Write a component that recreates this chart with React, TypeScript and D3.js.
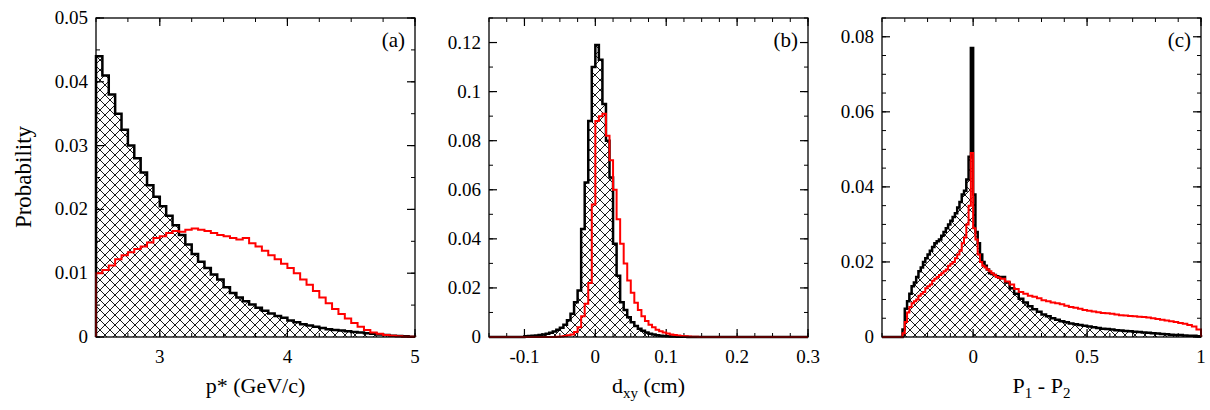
import * as d3 from "d3";

// panel (a): p* histograms, bins of 0.05 from 2.5
const aBlack = [0.044, 0.041, 0.038, 0.035, 0.0325, 0.03, 0.028, 0.0258, 0.0238, 0.022, 0.0205, 0.019, 0.0175, 0.016, 0.0145, 0.013, 0.0118, 0.0108, 0.0098, 0.009, 0.0078, 0.0069, 0.0062, 0.0056, 0.0051, 0.0046, 0.0041, 0.0037, 0.0033, 0.003, 0.0026, 0.0023, 0.002, 0.0018, 0.0016, 0.0014, 0.0012, 0.0011, 0.001, 0.0009, 0.0008, 0.0007, 0.0006, 0.0005, 0.0004, 0.0003, 0.0002, 0.00015, 0.0001, 0.00005];
const aRed = [0.01, 0.0105, 0.0112, 0.0122, 0.0128, 0.0133, 0.0138, 0.0142, 0.0148, 0.0155, 0.0158, 0.0163, 0.0166, 0.0165, 0.0168, 0.017, 0.0168, 0.0166, 0.0163, 0.016, 0.0158, 0.0155, 0.0153, 0.0155, 0.0147, 0.0142, 0.0135, 0.0128, 0.0122, 0.0115, 0.0108, 0.01, 0.009, 0.0082, 0.0072, 0.0062, 0.0053, 0.0044, 0.0036, 0.0029, 0.0022, 0.0016, 0.0011, 0.0007, 0.0005, 0.0003, 0.0002, 0.0001, 0.00005, 0.00003];

// panel (b): d_xy histograms, bins of 0.005 from -0.1
const bBlack = [0.0003, 0.0004, 0.0005, 0.0006, 0.0008, 0.001, 0.0013, 0.0017, 0.0022, 0.003, 0.0038, 0.005, 0.0068, 0.0095, 0.0142, 0.019, 0.044, 0.063, 0.088, 0.11, 0.119, 0.113, 0.095, 0.08, 0.065, 0.038, 0.025, 0.0142, 0.011, 0.008, 0.006, 0.0045, 0.0034, 0.0025, 0.0018, 0.0013, 0.001, 0.0007, 0.0005, 0.0004, 0.0003, 0.0002, 0.0002, 0.0001, 0.0001, 0.0001, 0.00005, 0.00005, 0, 0, 0, 0, 0, 0, 0, 0, 0, 0, 0, 0];
const bRed = [0, 0, 0, 0, 0, 0, 0, 0, 0, 0.0001, 0.0002, 0.0004, 0.0007, 0.001, 0.002, 0.004, 0.0085, 0.0135, 0.022, 0.054, 0.088, 0.09, 0.091, 0.082, 0.072, 0.06, 0.048, 0.038, 0.03, 0.023, 0.018, 0.014, 0.011, 0.0085, 0.0065, 0.005, 0.004, 0.003, 0.0023, 0.0018, 0.0014, 0.001, 0.0008, 0.0006, 0.0004, 0.0003, 0.0002, 0.00015, 0.0001, 0.00005, 0, 0, 0, 0, 0, 0, 0, 0, 0, 0];

// panel (c): P1 - P2, bins of 0.01 from -0.32 to 0.12, then 0.02 up to 1
const cBlackFine = [0, 0.002, 0.0075, 0.0095, 0.0115, 0.0135, 0.0145, 0.016, 0.0175, 0.0185, 0.02, 0.021, 0.022, 0.023, 0.024, 0.025, 0.0255, 0.026, 0.027, 0.028, 0.029, 0.03, 0.031, 0.032, 0.033, 0.0345, 0.036, 0.038, 0.039, 0.042, 0.048, 0.077, 0.038, 0.028, 0.025, 0.022, 0.02, 0.019, 0.018, 0.017, 0.0168, 0.0165, 0.0162, 0.0158];
const cRedFine = [0, 0.001, 0.004, 0.0065, 0.008, 0.009, 0.0095, 0.01, 0.011, 0.0115, 0.012, 0.013, 0.0135, 0.014, 0.015, 0.0155, 0.016, 0.0165, 0.017, 0.0175, 0.018, 0.019, 0.0195, 0.02, 0.021, 0.022, 0.023, 0.025, 0.0265, 0.03, 0.035, 0.049, 0.029, 0.026, 0.022, 0.02, 0.019, 0.0185, 0.018, 0.0175, 0.017, 0.0165, 0.016, 0.0158];
const cBlackCoarse = [0.016, 0.0145, 0.013, 0.0115, 0.0102, 0.0092, 0.0082, 0.0074, 0.0067, 0.006, 0.0055, 0.005, 0.0046, 0.0042, 0.0039, 0.0036, 0.0034, 0.0032, 0.003, 0.0028, 0.0026, 0.0024, 0.0022, 0.0021, 0.002, 0.0018, 0.0017, 0.0016, 0.0015, 0.0014, 0.0013, 0.0012, 0.0011, 0.001, 0.0009, 0.0008, 0.0007, 0.0006, 0.0005, 0.0005, 0.0004, 0.0003, 0.0003, 0.0002];
const cRedCoarse = [0.0155, 0.0148, 0.014, 0.0128, 0.012, 0.0115, 0.011, 0.0107, 0.0103, 0.0098, 0.0095, 0.0092, 0.009, 0.0087, 0.0083, 0.008, 0.0078, 0.0075, 0.0072, 0.007, 0.0068, 0.0066, 0.0064, 0.0063, 0.0062, 0.006, 0.0058, 0.0057, 0.0056, 0.0055, 0.0054, 0.0053, 0.0052, 0.005, 0.0048, 0.0046, 0.0044, 0.0042, 0.004, 0.0037, 0.0035, 0.0032, 0.0028, 0.002];

const aTicks = [3, 4, 5];
const aYTicks = [0, 0.01, 0.02, 0.03, 0.04, 0.05];
const bTicks = [-0.1, 0, 0.1, 0.2, 0.3];
const bYTicks = [0, 0.02, 0.04, 0.06, 0.08, 0.1, 0.12];
const cTicks = [0, 0.5, 1];
const cYTicks = [0, 0.02, 0.04, 0.06, 0.08];

const FONT = "Liberation Serif, Times New Roman, DejaVu Serif, serif";
const top = 18;
const bottom = 337;

type Hist = { edges: number[]; values: number[] };

function edgesFrom(start: number, step: number, n: number) {
  return d3.range(n + 1).map((i) => +(start + i * step).toFixed(6));
}

const aEdges = edgesFrom(2.5, 0.05, aBlack.length);
const bEdges = edgesFrom(-0.1, 0.005, bBlack.length);
const cEdges = edgesFrom(-0.32, 0.01, cBlackFine.length).concat(
  edgesFrom(0.12, 0.02, cBlackCoarse.length).slice(1)
);

type PanelProps = {
  left: number;
  right: number;
  xDomain: [number, number];
  yDomain: [number, number];
  xTicks: number[];
  xMinor: number;
  yTicks: number[];
  yMinor: number;
  black: Hist;
  red: Hist;
  tag: string;
  title: React.ReactNode;
};

function stepPath(h: Hist, x: d3.ScaleLinear<number, number>, y: d3.ScaleLinear<number, number>, dom: [number, number]) {
  const pts: [number, number][] = [];
  pts.push([dom[0], 0]);
  pts.push([h.edges[0], 0]);
  h.values.forEach((v, i) => {
    pts.push([h.edges[i], v]);
    pts.push([h.edges[i + 1], v]);
  });
  pts.push([h.edges[h.edges.length - 1], 0]);
  pts.push([dom[1], 0]);
  return d3.line().x((d) => x(d[0])).y((d) => y(d[1]))(pts) || "";
}

const fmt = (v: number) => d3.format("~g")(+v.toFixed(4)).replace("−", "-");

function Panel(p: PanelProps) {
  const x = d3.scaleLinear().domain(p.xDomain).range([p.left, p.right]);
  const y = d3.scaleLinear().domain(p.yDomain).range([bottom, top]);
  const xm = d3.range(Math.ceil(p.xDomain[0] / p.xMinor - 1e-6), Math.floor(p.xDomain[1] / p.xMinor + 1e-6) + 1).map((i) => i * p.xMinor);
  const ym = d3.range(0, Math.floor(p.yDomain[1] / p.yMinor + 1e-6) + 1).map((i) => i * p.yMinor);
  const blackD = stepPath(p.black, x, y, p.xDomain);
  const redD = stepPath(p.red, x, y, p.xDomain);
  return (
    <g>
      <path d={blackD} fill="url(#hatch)" stroke="none" />
      {xm.map((v, i) => (
        <g key={"xm" + i} stroke="#000" strokeWidth={1}>
          <line x1={x(v)} x2={x(v)} y1={bottom} y2={bottom - 4} />
          <line x1={x(v)} x2={x(v)} y1={top} y2={top + 4} />
        </g>
      ))}
      {ym.map((v, i) => (
        <g key={"ym" + i} stroke="#000" strokeWidth={1}>
          <line x1={p.left} x2={p.left + 4} y1={y(v)} y2={y(v)} />
          <line x1={p.right} x2={p.right - 4} y1={y(v)} y2={y(v)} />
        </g>
      ))}
      {p.xTicks.map((v, i) => (
        <g key={"xt" + i}>
          <line x1={x(v)} x2={x(v)} y1={bottom} y2={bottom - 8} stroke="#000" strokeWidth={1.2} />
          <line x1={x(v)} x2={x(v)} y1={top} y2={top + 8} stroke="#000" strokeWidth={1.2} />
          <text x={x(v)} y={bottom + 26} textAnchor="middle" fontSize={19} style={{ fontFamily: FONT }}>
            {fmt(v)}
          </text>
        </g>
      ))}
      {p.yTicks.map((v, i) => (
        <g key={"yt" + i}>
          <line x1={p.left} x2={p.left + 8} y1={y(v)} y2={y(v)} stroke="#000" strokeWidth={1.2} />
          <line x1={p.right} x2={p.right - 8} y1={y(v)} y2={y(v)} stroke="#000" strokeWidth={1.2} />
          <text x={p.left - 8} y={y(v) + 6} textAnchor="end" fontSize={19} style={{ fontFamily: FONT }}>
            {fmt(v)}
          </text>
        </g>
      ))}
      <path d={blackD} fill="none" stroke="#000" strokeWidth={2.5} />
      <path d={redD} fill="none" stroke="#ff0000" strokeWidth={2} />
      <rect x={p.left} y={top} width={p.right - p.left} height={bottom - top} fill="none" stroke="#000" strokeWidth={1.3} />
      <text x={p.right - 10} y={top + 29} textAnchor="end" fontSize={21} style={{ fontFamily: FONT }}>
        {p.tag}
      </text>
      <text x={(p.left + p.right) / 2} y={bottom + 56} textAnchor="middle" fontSize={22} style={{ fontFamily: FONT }}>
        {p.title}
      </text>
    </g>
  );
}

export default function App() {
  return (
    <svg width={1210} height={410} style={{ position: "absolute", left: 0, top: 0, background: "#fff", fontFamily: FONT }}>
      <defs>
        <pattern id="hatch" patternUnits="userSpaceOnUse" width={10} height={10}>
          <rect width={10} height={10} fill="#fff" />
          <path d="M0,0L10,10M10,0L0,10" stroke="#000" strokeWidth={0.9} />
        </pattern>
      </defs>
      <text transform="translate(31,177) rotate(-90)" textAnchor="middle" fontSize={23} style={{ fontFamily: FONT }}>
        Probability
      </text>
      <Panel
        left={96}
        right={415}
        xDomain={[2.5, 5]}
        yDomain={[0, 0.05]}
        xTicks={aTicks}
        xMinor={0.25}
        yTicks={aYTicks}
        yMinor={0.005}
        black={{ edges: aEdges, values: aBlack }}
        red={{ edges: aEdges, values: aRed }}
        tag="(a)"
        title="p* (GeV/c)"
      />
      <Panel
        left={489}
        right={808}
        xDomain={[-0.15, 0.3]}
        yDomain={[0, 0.13]}
        xTicks={bTicks}
        xMinor={0.025}
        yTicks={bYTicks}
        yMinor={0.01}
        black={{ edges: bEdges, values: bBlack }}
        red={{ edges: bEdges, values: bRed }}
        tag="(b)"
        title={
          <>
            d<tspan fontSize={15} dy={5}>xy</tspan>
            <tspan dy={-5}> (cm)</tspan>
          </>
        }
      />
      <Panel
        left={882}
        right={1201}
        xDomain={[-0.4, 1]}
        yDomain={[0, 0.085]}
        xTicks={cTicks}
        xMinor={0.1}
        yTicks={cYTicks}
        yMinor={0.005}
        black={{ edges: cEdges, values: cBlackFine.concat(cBlackCoarse) }}
        red={{ edges: cEdges, values: cRedFine.concat(cRedCoarse) }}
        tag="(c)"
        title={
          <>
            P<tspan fontSize={15} dy={5}>1</tspan>
            <tspan dy={-5}> - P</tspan>
            <tspan fontSize={15} dy={5}>2</tspan>
          </>
        }
      />
    </svg>
  );
}
